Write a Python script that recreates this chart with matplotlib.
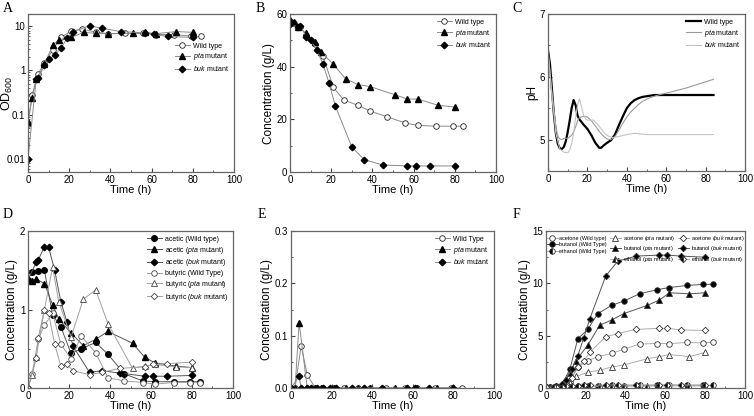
import numpy as np
import matplotlib
matplotlib.use("Agg")
import matplotlib.pyplot as plt
from matplotlib.ticker import MultipleLocator, FixedLocator, NullFormatter

plt.rcParams['font.family'] = ['Liberation Sans', 'DejaVu Sans']
plt.rcParams['mathtext.fontset'] = 'custom'
plt.rcParams['mathtext.rm'] = 'Liberation Sans'
plt.rcParams['mathtext.it'] = 'Liberation Sans:italic'

# sampling times (h)
t_wt = [0, 2, 5, 8, 12, 16, 21, 26, 33, 39, 47, 56, 62, 71, 79, 84]
t_pta = [0, 2, 4, 8, 12, 15, 21, 27, 33, 39, 51, 57, 62, 72, 80]
t_buk = [0, 4, 5, 8, 10, 13, 16, 19, 22, 30, 36, 45, 57, 61, 68, 80]

# A: OD600
od_wt = [0.06, 0.28, 0.84, 1.5, 2.9, 5.6, 7.8, 8.6, 7.4, 6.8, 6.9, 6.9, 6.5, 6.5, 6.0, 5.9]
od_pta = [0.068, 0.24, 0.63, 1.4, 3.7, 5.0, 5.6, 7.3, 6.9, 6.8, 6.9, 7.3, 6.8, 7.6, 7.3]
od_buk = [0.01, 0.63, 0.68, 1.3, 1.77, 2.2, 3.2, 5.4, 7.6, 10.3, 9.0, 7.6, 7.1, 6.6, 5.9, 5.6]

# B: glucose (g/L)
glc_wt = [57.5, 56.5, 55.0, 52.0, 48.5, 44.0, 32.2, 27.4, 25.3, 23.1, 21.0, 18.6, 17.7, 17.4, 17.4, 17.4]
glc_pta = [57.7, 56.8, 55.0, 52.6, 49.2, 45.7, 40.9, 35.4, 33.2, 32.4, 29.3, 27.7, 27.7, 25.3, 24.7]
glc_buk = [56.2, 54.9, 55.4, 51.4, 50.1, 46.3, 41.0, 33.7, 25.1, 9.5, 4.7, 2.7, 2.3, 2.3, 2.3, 2.3]

# C: pH curves
ph_t_wt = [0, 1, 2, 3, 4, 5, 6, 7, 8, 9, 10, 11, 12, 13, 14, 15, 16, 18, 20, 22, 24, 26, 27, 28,
           30, 32, 34, 36, 38, 40, 42, 44, 46, 48, 50, 54, 58, 70, 84]
ph_wt = [6.42, 6.2, 5.8, 5.4, 5.1, 4.93, 4.86, 4.85, 4.88, 4.97, 5.12, 5.3, 5.5, 5.63, 5.55, 5.38,
         5.32, 5.24, 5.17, 5.07, 4.95, 4.87, 4.87, 4.9, 4.95, 4.99, 5.08, 5.23, 5.37, 5.5, 5.58,
         5.63, 5.66, 5.68, 5.69, 5.71, 5.71, 5.71, 5.71]
ph_t_pta = [0, 2, 4, 5, 6, 7, 8, 10, 12, 13, 14, 15, 16, 18, 20, 22, 24, 26, 28, 30, 32, 34, 36,
            38, 40, 42, 44, 46, 48, 52, 56, 60, 70, 84]
ph_pta = [6.42, 5.75, 5.2, 5.05, 5.01, 5.0, 5.02, 5.02, 5.07, 5.12, 5.2, 5.3, 5.35, 5.37, 5.36,
          5.3, 5.22, 5.13, 5.06, 5.01, 5.0, 5.05, 5.15, 5.26, 5.36, 5.44, 5.5, 5.56, 5.61, 5.67,
          5.71, 5.74, 5.82, 5.96]
ph_t_buk = [0, 2, 4, 6, 8, 10, 11, 12, 13, 14, 15, 16, 17, 18, 19, 20, 22, 23, 25, 27, 29, 31,
            33, 36, 40, 44, 50, 60, 84]
ph_buk = [6.42, 5.7, 5.1, 4.85, 4.8, 4.79, 4.83, 4.93, 5.1, 5.35, 5.55, 5.65, 5.52, 5.4, 5.33,
          5.31, 5.31, 5.31, 5.25, 5.17, 5.09, 5.05, 5.03, 5.05, 5.08, 5.1, 5.08, 5.08, 5.08]

# D: acids (g/L)
ac_wt = [1.38, 1.48, 1.49, 1.50, 0.93, 0.78, 0.44, 0.50, 0.58, 0.43, 0.18, 0.09, 0.08, 0.08, 0.08, 0.08]
ac_pta = [1.38, 1.36, 1.39, 1.33, 1.06, 0.88, 0.70, 0.54, 0.62, 0.72, 0.57, 0.39, 0.32, 0.28, 0.26]
ac_buk = [1.38, 1.60, 1.63, 1.80, 1.80, 1.50, 1.10, 0.84, 0.53, 0.20, 0.22, 0.19, 0.15, 0.15, 0.15, 0.16]
bu_wt = [0.0, 0.18, 0.62, 0.80, 0.95, 0.56, 0.37, 0.66, 0.45, 0.13, 0.09, 0.07, 0.05, 0.07, 0.07, 0.07]
bu_pta = [0.0, 0.16, 0.40, 1.0, 1.54, 1.10, 0.65, 1.13, 1.25, 0.82, 0.25, 0.28, 0.30, 0.27, 0.26]
bu_buk = [0.0, 0.38, 0.64, 1.0, 0.95, 0.56, 0.28, 0.30, 0.22, 0.17, 0.20, 0.25, 0.27, 0.30, 0.31, 0.33]

# E: minor product (g/L)
e_wt = [0, 0, 0.081, 0.025, 0, 0, 0, 0, 0, 0, 0, 0, 0, 0, 0, 0]
e_pta = [0, 0, 0.125, 0, 0, 0, 0, 0, 0, 0, 0, 0, 0, 0, 0]
e_buk = [0, 0.022, 0, 0, 0, 0, 0, 0, 0, 0, 0, 0, 0, 0, 0, 0]

# F: solvents (g/L)
acet_wt = [0.0, 0.02, 0.08, 0.2, 0.6, 2.0, 2.6, 3.0, 3.3, 3.7, 4.2, 4.25, 4.25, 4.35, 4.3, 4.4]
acet_pta = [0.0, 0.02, 0.05, 0.15, 0.5, 1.1, 1.5, 1.7, 2.0, 2.2, 2.8, 3.0, 3.2, 3.0, 3.4]
acet_buk = [0.0, 0.05, 0.08, 0.2, 0.4, 1.0, 2.0, 2.6, 3.4, 4.9, 5.2, 5.6, 5.7, 5.7, 5.55, 5.5]
buoh_wt = [0.05, 0.08, 0.15, 0.3, 1.8, 4.7, 5.6, 7.1, 7.9, 8.3, 9.0, 9.4, 9.6, 9.8, 9.9, 9.9]
buoh_pta = [0.05, 0.08, 0.12, 0.4, 1.4, 2.6, 4.1, 6.0, 6.5, 7.1, 7.9, 8.4, 9.1, 9.0, 9.1]
buoh_buk = [0.05, 0.12, 0.15, 0.35, 0.8, 1.8, 3.1, 4.8, 6.6, 10.7, 12.1, 12.6, 12.7, 12.7, 12.6, 12.5]
etoh_wt = [0.05, 0.05, 0.08, 0.1, 0.15, 0.15, 0.2, 0.2, 0.25, 0.22, 0.25, 0.25, 0.28, 0.25, 0.25, 0.25]
etoh_pta = [0.05, 0.05, 0.06, 0.08, 0.1, 0.12, 0.12, 0.15, 0.15, 0.18, 0.18, 0.2, 0.2, 0.2, 0.2]
etoh_buk = [0.05, 0.08, 0.1, 0.12, 0.15, 0.2, 0.2, 0.25, 0.25, 0.28, 0.3, 0.3, 0.3, 0.3, 0.3, 0.3]

lab_wt = "Wild type"
lab_pta = r"$\it{pta}$ mutant"
lab_buk = r"$\it{buk}$ mutant"

W, H = 754, 416
fig = plt.figure(figsize=(W / 100, H / 100), dpi=100)


def make_ax(l, r, t, b):
    return fig.add_axes([l / W, 1 - b / H, (r - l) / W, (b - t) / H])


def style(ax, ylabel, ymajor=None, yminor=None, ylim=None):
    ax.set_xlim(0, 100)
    ax.xaxis.set_major_locator(MultipleLocator(20))
    ax.xaxis.set_minor_locator(MultipleLocator(10))
    if ymajor is not None:
        ax.yaxis.set_major_locator(MultipleLocator(ymajor))
        ax.yaxis.set_minor_locator(MultipleLocator(yminor))
    if ylim is not None:
        ax.set_ylim(*ylim)
    ax.tick_params(which='both', direction='in', labelsize=7, color='#444444',
                   top=False, right=False, pad=2)
    ax.tick_params(which='major', length=3)
    ax.tick_params(which='minor', length=1.5)
    for s in ax.spines.values():
        s.set_color('#666666')
        s.set_linewidth(0.9)
    ax.set_xlabel("Time (h)", fontsize=8, labelpad=0)
    ax.set_ylabel(ylabel, fontsize=8.5, labelpad=1)


LC = '#8a8a8a'
kw_o = dict(color=LC, lw=0.7, marker='o', ms=4, mfc='white', mec='#222222', mew=0.6)
kw_t = dict(color=LC, lw=0.7, marker='^', ms=4.2, mfc='black', mec='black')
kw_d = dict(color=LC, lw=0.7, marker='D', ms=3.3, mfc='black', mec='black')


def leg(ax, **kw):
    ax.legend(frameon=False, fontsize=5, handlelength=2.2, labelspacing=0.25,
              handletextpad=0.4, borderaxespad=0.3, **kw)


# A
axA = make_ax(28, 234, 14, 172)
axA.semilogy(t_wt, od_wt, label=lab_wt, **kw_o)
axA.semilogy(t_pta, od_pta, label=lab_pta, **kw_t)
axA.semilogy(t_buk, od_buk, label=lab_buk, **kw_d)
style(axA, "OD$_{600}$")
axA.set_ylim(0.005, 19)
axA.yaxis.set_major_locator(FixedLocator([0.01, 0.1, 1, 10]))
axA.set_yticklabels(['0.01', '0.1', '1', '10'])
axA.yaxis.set_minor_formatter(NullFormatter())
axA.set_ylabel("OD$_{600}$", fontsize=9)
axA.yaxis.set_label_coords(-0.065, 0.5)
leg(axA, loc='upper right', bbox_to_anchor=(1.0, 0.85))

# B
axB = make_ax(290, 496, 14, 172)
axB.plot(t_wt, glc_wt, label=lab_wt, **kw_o)
axB.plot(t_pta, glc_pta, label=lab_pta, **kw_t)
axB.plot(t_buk, glc_buk, label=lab_buk, **kw_d)
style(axB, "Concentration (g/L)", 20, 10, (0, 60))
leg(axB, loc='upper right')

# C
axC = make_ax(548, 745, 14, 171)
axC.plot(ph_t_wt, ph_wt, color='black', lw=1.6, label=lab_wt)
axC.plot(ph_t_pta, ph_pta, color='#9a9a9a', lw=0.8, label=lab_pta)
axC.plot(ph_t_buk, ph_buk, color='#c4c4c4', lw=0.8, label=lab_buk)
style(axC, "pH", 1, 0.5, (4.5, 7))
leg(axC, loc='upper right')

# D
axD = make_ax(28, 233, 231, 388)
kd = dict(color='#555555', lw=0.7)
kb = dict(color='#a0a0a0', lw=0.7)
axD.plot(t_wt, ac_wt, marker='o', ms=4, mfc='black', mec='black', label="acetic (Wild type)", **kd)
axD.plot(t_pta, ac_pta, marker='^', ms=4.2, mfc='black', mec='black',
         label=r"acetic ($\it{pta}$ mutant)", **kd)
axD.plot(t_buk, ac_buk, marker='D', ms=3.3, mfc='black', mec='black',
         label=r"acetic ($\it{buk}$ mutant)", **kd)
axD.plot(t_wt, bu_wt, marker='o', ms=4, mfc='white', mec='#444444', mew=0.6,
         label="butyric (Wild Type)", **kb)
axD.plot(t_pta, bu_pta, marker='^', ms=4.2, mfc='white', mec='#444444', mew=0.6,
         label=r"butyric ($\it{pta}$ mutant)", **kb)
axD.plot(t_buk, bu_buk, marker='D', ms=3.3, mfc='white', mec='#444444', mew=0.6,
         label=r"butyric ($\it{buk}$ mutant)", **kb)
style(axD, "Concentration (g/L)", 1, 0.5, (0, 2))
leg(axD, loc='upper right')

# E
axE = make_ax(291, 494, 231, 388)
axE.plot(t_wt, e_wt, label="Wild Type", **kw_o)
axE.plot(t_pta, e_pta, label=lab_pta, **kw_t)
axE.plot(t_buk, e_buk, label=lab_buk, **kw_d)
style(axE, "Concentration (g/L)", 0.1, 0.05, (0, 0.3))
axE.yaxis.set_major_formatter(matplotlib.ticker.FormatStrFormatter('%.1f'))
leg(axE, loc='upper right')

# F
axF = make_ax(546, 745, 231, 388)
ka = dict(color='#a0a0a0', lw=0.6)
kbu = dict(color='#555555', lw=0.7)
series_F = [
    (t_wt, acet_wt, 'o', 'white', 'full', "acetone (Wild type)", ka),
    (t_wt, buoh_wt, 'o', 'black', 'full', "butanol (Wild Type)", kbu),
    (t_wt, etoh_wt, 'o', 'black', 'left', "ethanol (Wild Type)", ka),
    (t_pta, acet_pta, '^', 'white', 'full', r"acetone ($\it{pta}$ mutant)", ka),
    (t_pta, buoh_pta, '^', 'black', 'full', r"butanol ($\it{pta}$ mutant)", kbu),
    (t_pta, etoh_pta, '^', 'black', 'left', r"ethanol ($\it{pta}$ mutant)", ka),
    (t_buk, acet_buk, 'D', 'white', 'full', r"acetone ($\it{buk}$ mutant)", ka),
    (t_buk, buoh_buk, 'D', 'black', 'full', r"butanol ($\it{buk}$ mutant)", kbu),
    (t_buk, etoh_buk, 'D', 'black', 'left', r"ethanol ($\it{buk}$ mutant)", ka),
]
for tt, yy, m, fc, fs, lab, lk in series_F:
    ms = 3.3 if m == 'D' else 4
    axF.plot(tt, yy, marker=m, ms=ms, mfc=fc, mec='#333333', mew=0.6,
             fillstyle=fs, markerfacecoloralt='white', label=lab, **lk)
style(axF, "Concentration (g/L)", 5, 2.5, (0, 15))
axF.legend(frameon=False, fontsize=4, ncol=3, loc='upper center', handlelength=2.0,
           labelspacing=0.2, handletextpad=0.3, columnspacing=0.5, borderaxespad=0.2,
           bbox_to_anchor=(0.5, 1.0))

# panel letters
for letter, x, y in [("A", 3, 2), ("B", 256, 2), ("C", 512, 2),
                     ("D", 3, 208), ("E", 258, 208), ("F", 513, 208)]:
    fig.text(x / W, 1 - y / H, letter, family='Liberation Serif', fontsize=10,
             va='top', ha='left')

fig.savefig("out.png", dpi=100)
